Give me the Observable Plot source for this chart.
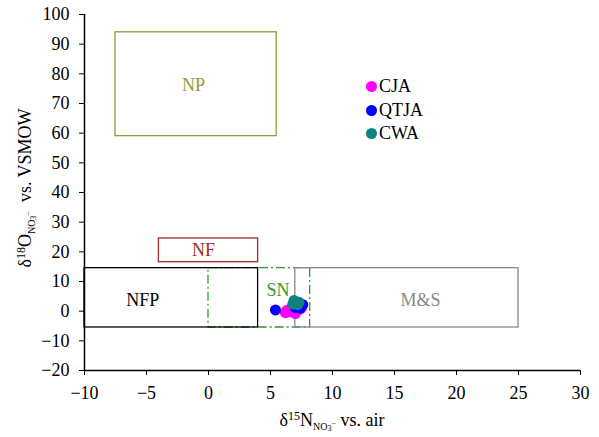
<!DOCTYPE html>
<html><head><meta charset="utf-8">
<script src="https://cdn.jsdelivr.net/npm/d3@7"></script>
<script src="https://cdn.jsdelivr.net/npm/@observablehq/plot@0.6"></script>
<style>
body{margin:0;background:#fff;}
#wrap{position:relative;width:599px;height:437px;}
#wrap svg, #wrap svg text{font-family:'Liberation Serif' !important;}
#legend{position:absolute;left:366px;top:75px;font-family:'Liberation Serif';font-size:18px;line-height:23.5px;color:#000;}
#legend .row{display:flex;align-items:center;}
#legend .sw{width:11px;height:11px;border-radius:50%;margin-right:2px;}
</style></head><body><div id="wrap"></div>
<script>
// Series
const seriesNames = ["CJA", "QTJA", "CWA"];
const seriesColors = ["#ff00ff", "#0000ff", "#108080"];
const cjaX = [6.2, 6.5, 6.8, 7.0, 7.3, 6.6, 7.5, 6.3];
const cjaY = [-0.5, -0.2, 0.3, -0.8, 0.5, 0.8, 1.0, 0.2];
const qtjaX = [5.4, 7.2, 7.6, 7.4, 7.0];
const qtjaY = [0.4, 1.6, 2.2, 1.0, 1.2];
const cwaX = [6.8, 7.0, 7.2, 6.9, 7.3];
const cwaY = [2.4, 3.2, 2.2, 3.6, 3.0];

// Source boxes
const boxNames = ["NP", "NF", "NFP", "SN", "M&S"];
const boxX1 = [-7.5, -4, -10, 0, 7];
const boxX2 = [5.5, 4, 4, 8.2, 25];
const boxY1 = [59, 16.5, -5.5, -5.5, -5.5];
const boxY2 = [94, 24.5, 14.5, 14.5, 14.5];
const boxColors = ["#999933", "#a52a2a", "#000000", "#2e9a2e", "#888888"];
const labelX = [-1.2, -0.4, -5.3, 5.6, 17.1];
const labelY = [76, 20.4, 3.6, 7.2, 3.6];

// Ticks
const xTicks = [-10, -5, 0, 5, 10, 15, 20, 25, 30];
const yTicks = [-20, -10, 0, 10, 20, 30, 40, 50, 60, 70, 80, 90, 100];

const points = [];
[[cjaX, cjaY], [qtjaX, qtjaY], [cwaX, cwaY]].forEach(([xs, ys], i) => {
  xs.forEach((x, j) => points.push({series: seriesNames[i], color: seriesColors[i], x, y: ys[j]}));
});
const boxes = boxNames.map((name, i) => ({
  name, x1: boxX1[i], x2: boxX2[i], y1: boxY1[i], y2: boxY2[i],
  color: boxColors[i], lx: labelX[i], ly: labelY[i]
}));
const solidBoxes = boxes.filter(d => d.name !== "SN");
const dashBoxes = boxes.filter(d => d.name === "SN");

const chart = Plot.plot({
  width: 599, height: 437,
  marginLeft: 84, marginRight: 19, marginTop: 14, marginBottom: 67,
  x: {domain: [-10, 30]},
  y: {domain: [-20, 100]},
  color: {type: "identity"},
  style: {fontFamily: "'Liberation Serif'", fontSize: "17px", color: "#000", background: "#fff"},
  marks: [
    Plot.rect(dashBoxes, {x1: "x1", x2: "x2", y1: "y1", y2: "y2", stroke: "color", fill: "none", strokeWidth: 1.3, strokeDasharray: "9,3,2,3"}),
    Plot.rect(solidBoxes, {x1: "x1", x2: "x2", y1: "y1", y2: "y2", stroke: "color", fill: "none", strokeWidth: 1.3}),
    Plot.text(boxes, {x: "lx", y: "ly", text: "name", fill: "color", fontSize: 18}),
    Plot.axisX({ticks: xTicks, tickSize: 5, tickPadding: 11, label: null, fontSize: 18}),
    Plot.axisY({ticks: yTicks, tickSize: 5, tickPadding: 10, label: null, fontSize: 18}),
    Plot.ruleX([-10], {strokeWidth: 1.5}),
    Plot.ruleY([-20], {strokeWidth: 1.5}),
    Plot.dot(points, {x: "x", y: "y", fill: "color", r: 5.5})
  ]
});

const wrap = document.getElementById("wrap");
wrap.appendChild(chart);

// Axis labels with sub/superscripts
const svg = d3.select(chart);
function richLabel(g) {
  g.attr("font-size", 18).attr("fill", "#000");
}
const xl = svg.append("text").attr("x", 332).attr("y", 426).attr("text-anchor", "middle").call(richLabel);
xl.append("tspan").text("δ");
xl.append("tspan").attr("font-size", 12).attr("dy", -6).text("15");
xl.append("tspan").attr("dy", 6).text("N");
xl.append("tspan").attr("font-size", 10).attr("dy", 4).text("NO");
xl.append("tspan").attr("font-size", 8).attr("dy", 1).text("3");
xl.append("tspan").attr("font-size", 8).attr("dy", -5).text("−");
xl.append("tspan").attr("dy", 0).text(" vs. air");

const yl = svg.append("text").attr("transform", "translate(31,188) rotate(-90)").attr("text-anchor", "middle").call(richLabel);
yl.append("tspan").text("δ");
yl.append("tspan").attr("font-size", 12).attr("dy", -6).text("18");
yl.append("tspan").attr("dy", 6).text("O");
yl.append("tspan").attr("font-size", 10).attr("dy", 4).text("NO");
yl.append("tspan").attr("font-size", 8).attr("dy", 1).text("3");
yl.append("tspan").attr("font-size", 8).attr("dy", -5).text("−");
yl.append("tspan").attr("dy", 0).text("  vs. VSMOW");

// Legend
const legend = document.createElement("div");
legend.id = "legend";
seriesNames.forEach((n, i) => {
  const row = document.createElement("div");
  row.className = "row";
  const sw = document.createElement("span");
  sw.className = "sw";
  sw.style.background = seriesColors[i];
  const t = document.createElement("span");
  t.textContent = n;
  row.appendChild(sw); row.appendChild(t);
  legend.appendChild(row);
});
wrap.appendChild(legend);
</script>
</body></html>
